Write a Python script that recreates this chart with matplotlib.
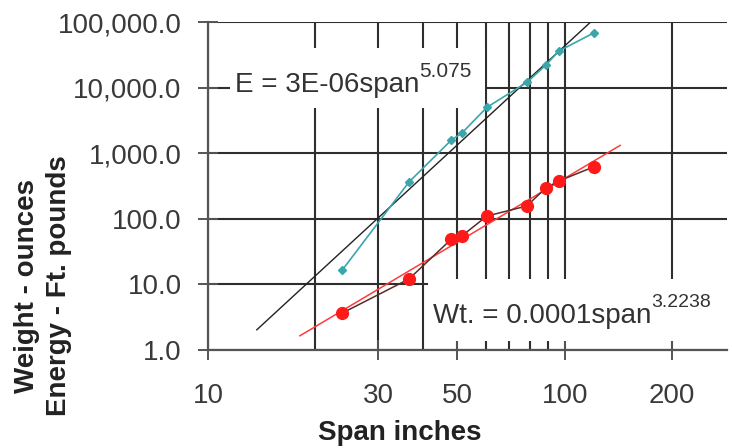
import numpy as np
import matplotlib
matplotlib.use("Agg")
import matplotlib.pyplot as plt
from matplotlib.patches import Rectangle
from matplotlib.ticker import FixedLocator, FixedFormatter, NullFormatter

# ---- data ----
span = [23.8, 36.6, 48.1, 51.5, 60.5, 78.3, 88.5, 96.2, 120.5]
energy = [16.6, 364, 1585, 2030, 5000, 12000, 22000, 36000, 68000]
weight = [3.66, 12.1, 49, 55, 110, 157, 295, 377, 618]
energy_trend_range = [13.7, 120.0]
weight_trend_range = [18.1, 143.0]
x_tick_vals = [10, 30, 50, 100, 200]
x_tick_labels = ["10", "30", "50", "100", "200"]
y_tick_vals = [1, 10, 100, 1000, 10000, 100000]
y_tick_labels = ["1.0", "10.0", "100.0", "1,000.0", "10,000.0", "100,000.0"]
energy_eq = ("E = 3E-06span", "5.075")
weight_eq = ("Wt. = 0.0001span", "3.2238")

plt.rcParams['font.family'] = ['Liberation Sans', 'DejaVu Sans']
W, H = 732, 448
fig = plt.figure(figsize=(W / 100, H / 100), dpi=100)
ax = fig.add_axes([208 / W, 1 - 350 / H, (727 - 208) / W, (350 - 22) / H])
ax.set_xscale('log')
ax.set_yscale('log')
ax.set_xlim(10, 285)
ax.set_ylim(1, 100000)

gridc = '#2e2e2e'
ax.xaxis.set_major_locator(FixedLocator(x_tick_vals))
ax.xaxis.set_major_formatter(FixedFormatter(x_tick_labels))
minor_x = [v for d in (10, 100) for v in np.arange(2, 10) * d if v < 285]
ax.xaxis.set_minor_locator(FixedLocator(minor_x))
ax.xaxis.set_minor_formatter(NullFormatter())
ax.yaxis.set_major_locator(FixedLocator(y_tick_vals))
ax.yaxis.set_major_formatter(FixedFormatter(y_tick_labels))
ax.yaxis.set_minor_locator(FixedLocator([]))
ax.grid(True, which='major', axis='both', color=gridc, lw=1.5, zorder=1)
ax.grid(True, which='minor', axis='x', color=gridc, lw=1.5, zorder=1)
ax.set_axisbelow(True)

for s in ('top', 'right'):
    ax.spines[s].set_visible(False)
for s in ('left', 'bottom'):
    ax.spines[s].set_color('#555555')
    ax.spines[s].set_linewidth(1.6)
ax.tick_params(axis='both', which='major', direction='inout', length=14, width=1.4,
               color='#555555', labelsize=20, labelcolor='#3a3a3a')
ax.tick_params(axis='x', which='major', pad=17)
ax.tick_params(axis='y', which='major', pad=12)
ax.tick_params(axis='x', which='minor', length=0)

# white label boxes covering grid
def fig_rect(x0, y0, x1, y1):
    r = Rectangle((x0 / W, 1 - y1 / H), (x1 - x0) / W, (y1 - y0) / H,
                  transform=fig.transFigure, facecolor='white', edgecolor='none', zorder=2)
    ax.add_artist(r)
    r.set_clip_on(False)

fig_rect(230, 48, 485, 108)
fig_rect(428, 279, 727, 341)

# data series
ax.plot(span, energy, color='#3aa6ab', lw=1.2, marker='D', ms=4.5,
        mfc='#3aa6ab', mec='#3aa6ab', zorder=5)
ax.plot(span, weight, color='#5a2a2a', lw=1.1, marker='o', ms=8.5,
        mfc='#ff1a1a', mec='#ff1a1a', zorder=5)

# power trendlines (least squares in log space, as a spreadsheet does)
lx = np.log10(span)
be, ae = np.polyfit(lx, np.log10(energy), 1)
bw, aw = np.polyfit(lx, np.log10(weight), 1)
xe = np.geomspace(*energy_trend_range, 50)
xw = np.geomspace(*weight_trend_range, 50)
ax.plot(xe, 10 ** (ae + be * np.log10(xe)), color='#222222', lw=1.0, zorder=4)
ax.plot(xw, 10 ** (aw + bw * np.log10(xw)), color='#ff3b3b', lw=1.1, zorder=4)

# equations
fig.canvas.draw()
rend = fig.canvas.get_renderer()

def eq(x, ybase, main, sup, supsize, rise):
    t = fig.text(x / W, 1 - ybase / H, main, fontsize=20, color='#333333',
                 ha='left', va='baseline', zorder=6)
    bb = t.get_window_extent(rend)
    fig.text(bb.x1 / W, 1 - (ybase - rise) / H, sup, fontsize=supsize,
             color='#333333', ha='left', va='baseline', zorder=6)

eq(235, 92, energy_eq[0], energy_eq[1], 15, 15)
eq(433, 323, weight_eq[0], weight_eq[1], 14, 16)

# axis labels
fig.text(400 / W, 1 - 433 / H, "Span inches", fontsize=20, fontweight='bold',
         color='#222222', ha='center', va='center')
fig.text(43 / W, 1 - 286 / H, "Weight - ounces\nEnergy - Ft. pounds", fontsize=20,
         fontweight='bold', color='#222222', ha='center', va='center',
         rotation=90, multialignment='center', linespacing=1.25)

fig.savefig('out.png', dpi=100)
